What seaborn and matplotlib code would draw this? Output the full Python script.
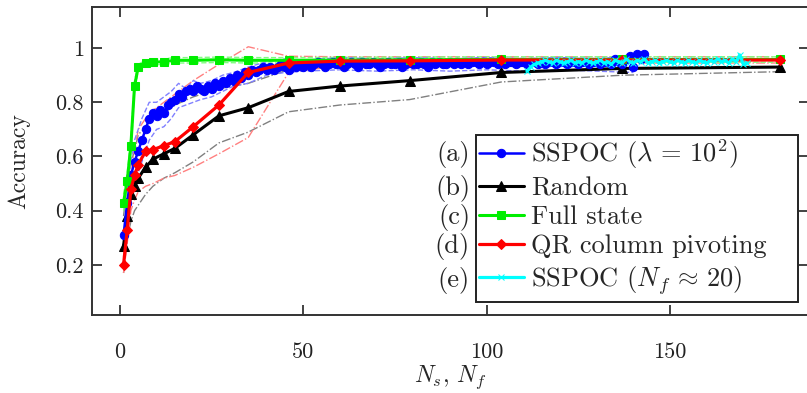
import numpy as np
import pandas as pd
import matplotlib
matplotlib.use("Agg")
import matplotlib.pyplot as plt
import seaborn as sns
from matplotlib.patches import Rectangle

# ---- data ----
x_sparse = [1, 2, 3, 4, 5, 7, 9, 12, 15, 20, 27, 35, 46, 60, 79, 104, 137, 180]

random_acc = [0.27, 0.38, 0.46, 0.49, 0.52, 0.56, 0.59, 0.61, 0.63, 0.68,
              0.75, 0.78, 0.84, 0.86, 0.88, 0.91, 0.925, 0.93]
random_lo = [0.17, 0.30, 0.36, 0.40, 0.42, 0.46, 0.49, 0.52, 0.54, 0.58,
             0.65, 0.69, 0.765, 0.79, 0.81, 0.875, 0.90, 0.913]
random_hi = [0.38, 0.50, 0.58, 0.62, 0.68, 0.71, 0.74, 0.76, 0.79, 0.82,
             0.85, 0.87, 0.92, 0.935, 0.945, 0.95, 0.955, 0.955]

full_acc = [0.43, 0.51, 0.64, 0.86, 0.93, 0.945, 0.948, 0.95, 0.955, 0.955,
            0.957, 0.955, 0.955, 0.956, 0.957, 0.958, 0.958, 0.958]
full_lo = [0.40, 0.48, 0.61, 0.84, 0.92, 0.935, 0.938, 0.94, 0.945, 0.945,
           0.947, 0.945, 0.945, 0.946, 0.947, 0.948, 0.948, 0.948]
full_hi = [0.46, 0.54, 0.67, 0.88, 0.94, 0.955, 0.958, 0.96, 0.965, 0.965,
           0.967, 0.965, 0.965, 0.966, 0.967, 0.968, 0.968, 0.968]

qr_acc = [0.20, 0.33, 0.48, 0.53, 0.57, 0.62, 0.625, 0.64, 0.655, 0.71,
          0.79, 0.91, 0.945, 0.952, 0.953, 0.956, 0.956, 0.956]
qr_lo = [0.17, 0.28, 0.40, 0.44, 0.47, 0.49, 0.50, 0.52, 0.53, 0.56,
         0.61, 0.67, 0.91, 0.935, 0.94, 0.945, 0.945, 0.945]
qr_hi = [0.23, 0.38, 0.56, 0.62, 0.70, 0.74, 0.77, 0.80, 0.83, 0.88,
         0.94, 1.005, 0.97, 0.968, 0.968, 0.968, 0.968, 0.968]

sspoc_x = list(range(1, 144))
sspoc_acc = [0.31, 0.43, 0.53, 0.58, 0.62, 0.66, 0.70, 0.74, 0.76, 0.75,
             0.77, 0.76, 0.79, 0.80, 0.81, 0.83, 0.82, 0.84, 0.85, 0.84,
             0.86, 0.85, 0.84, 0.86, 0.85, 0.87, 0.86, 0.88, 0.87, 0.89,
             0.88, 0.90, 0.89, 0.91, 0.90, 0.92, 0.91, 0.92, 0.93, 0.92,
             0.93, 0.92, 0.93, 0.94, 0.93, 0.92, 0.94, 0.93, 0.94, 0.93,
             0.94, 0.93, 0.94, 0.95, 0.94, 0.93, 0.94, 0.95, 0.94, 0.94,
             0.93, 0.94, 0.95, 0.94, 0.93, 0.95, 0.94, 0.94, 0.95, 0.94,
             0.93, 0.94, 0.95, 0.94, 0.94, 0.95, 0.93, 0.94, 0.95, 0.94,
             0.94, 0.95, 0.94, 0.93, 0.95, 0.94, 0.95, 0.94, 0.94, 0.95,
             0.94, 0.95, 0.94, 0.95, 0.94, 0.95, 0.95, 0.94, 0.95, 0.94,
             0.95, 0.95, 0.94, 0.95, 0.94, 0.95, 0.95, 0.94, 0.95, 0.95,
             0.94, 0.95, 0.95, 0.94, 0.95, 0.94, 0.95, 0.95, 0.94, 0.95,
             0.95, 0.94, 0.95, 0.95, 0.94, 0.95, 0.95, 0.94, 0.95, 0.95,
             0.94, 0.95, 0.95, 0.94, 0.96, 0.95, 0.94, 0.96, 0.97, 0.93,
             0.98, 0.96, 0.98]

band_x = [2, 4, 6, 8, 10, 12, 14, 16, 18, 20, 22, 25, 28, 31, 35, 40, 45, 50,
          60, 70, 80, 90, 100, 110, 120, 130, 140]
sspoc_hi = [0.50, 0.66, 0.74, 0.80, 0.80, 0.82, 0.84, 0.87, 0.85, 0.88, 0.87,
            0.88, 0.90, 0.91, 0.93, 0.95, 0.96, 0.955, 0.965, 0.96, 0.965,
            0.96, 0.965, 0.96, 0.965, 0.96, 0.97]
sspoc_lo = [0.36, 0.50, 0.58, 0.66, 0.70, 0.71, 0.74, 0.78, 0.79, 0.80, 0.81,
            0.82, 0.84, 0.86, 0.87, 0.90, 0.91, 0.915, 0.92, 0.915, 0.92,
            0.915, 0.92, 0.915, 0.92, 0.915, 0.91]

nf_x = list(range(111, 172))
nf_acc = [0.915, 0.93, 0.94, 0.945, 0.95, 0.955, 0.95, 0.945, 0.955, 0.95,
          0.945, 0.95, 0.955, 0.945, 0.95, 0.945, 0.955, 0.95, 0.945, 0.95,
          0.955, 0.945, 0.95, 0.94, 0.955, 0.95, 0.945, 0.96, 0.95, 0.945,
          0.955, 0.95, 0.96, 0.945, 0.95, 0.955, 0.945, 0.95, 0.955, 0.95,
          0.945, 0.955, 0.95, 0.945, 0.955, 0.95, 0.945, 0.955, 0.95, 0.945,
          0.955, 0.95, 0.96, 0.95, 0.955, 0.945, 0.96, 0.95, 0.975, 0.94,
          0.945]

labels = [r"SSPOC ($\lambda\,=\,10^2$)", "Random", "Full state",
          "QR column pivoting", r"SSPOC ($N_f\,\approx\,20$)"]
tags = ["(a)", "(b)", "(c)", "(d)", "(e)"]
yticks = [0.2, 0.4, 0.6, 0.8, 1.0]
ytick_labels = ["0.2", "0.4", "0.6", "0.8", "1"]
xticks = [0, 50, 100, 150]

sns.set_style("ticks")
plt.rcParams["font.family"] = "serif"
plt.rcParams["font.serif"] = ["cmr10", "DejaVu Serif"]
plt.rcParams["mathtext.fontset"] = "cm"
plt.rcParams["axes.unicode_minus"] = False
plt.rcParams["axes.formatter.use_mathtext"] = True

W, H = 807, 393
fig = plt.figure(figsize=(8.07, 3.93), dpi=100)
ax = fig.add_axes([0.114, 0.1985, 0.889, 0.7825])

# spread lines
ax.plot(x_sparse, random_lo, color="#808080", lw=1.0, ls="-.", zorder=1)
ax.plot(x_sparse, random_hi, color="#808080", lw=1.0, ls="-.", zorder=1)
ax.plot(x_sparse, qr_lo, color="#ff8080", lw=1.0, ls="-.", zorder=1)
ax.plot(x_sparse, qr_hi, color="#ff8080", lw=1.0, ls="-.", zorder=1)
ax.plot(x_sparse, full_lo, color="#80ff80", lw=1.0, ls="--", zorder=1)
ax.plot(x_sparse, full_hi, color="#80ff80", lw=1.0, ls="--", zorder=1)
ax.plot(band_x, sspoc_lo, color="#8080ff", lw=1.0, ls="--", zorder=1)
ax.plot(band_x, sspoc_hi, color="#8080ff", lw=1.0, ls="--", zorder=1)

sns.lineplot(x=sspoc_x, y=sspoc_acc, ax=ax, color="blue", lw=1.8,
             marker="o", markersize=6, markeredgecolor="blue", zorder=3)
ln_a = ax.lines[-1]
sns.lineplot(x=x_sparse, y=random_acc, ax=ax, color="black", lw=2.2,
             marker="^", markersize=6.5, markeredgecolor="black", zorder=2)
ln_b = ax.lines[-1]
sns.lineplot(x=x_sparse, y=full_acc, ax=ax, color="#00ee00", lw=2.2,
             marker="s", markersize=5.5, markeredgecolor="#00ee00", zorder=4)
ln_c = ax.lines[-1]
sns.lineplot(x=x_sparse, y=qr_acc, ax=ax, color="red", lw=2.3,
             marker="D", markersize=5.5, markeredgecolor="red", zorder=5)
ln_d = ax.lines[-1]
sns.lineplot(x=nf_x, y=nf_acc, ax=ax, color="cyan", lw=2.3,
             marker="x", markersize=5, markeredgecolor="cyan", zorder=6)
ln_e = ax.lines[-1]

ax.set_xlim(-7.6, 188)
ax.set_ylim(0.015, 1.15)
ax.set_xticks(xticks)
ax.set_xticklabels([str(t) for t in xticks])
ax.set_yticks(yticks)
ax.set_yticklabels(ytick_labels)
ax.tick_params(direction="in", length=7, width=1.2, top=True, right=True,
               labelsize=16, colors="#222222")
ax.tick_params(axis="x", pad=20)
ax.tick_params(axis="y", pad=6)
for s in ax.spines.values():
    s.set_linewidth(1.4)
    s.set_color("#333333")

ax.set_xlabel(r"$N_s$, $N_f$", fontsize=17, labelpad=1)
ax.set_ylabel("Accuracy", fontsize=17, labelpad=18)

# legend box drawn as its own rectangle (pixel position from the reference)
box_l, box_r, box_t, box_b = 476, 798, 135, 302
ax.add_patch(Rectangle((box_l / W, 1 - box_b / H),
                       (box_r - box_l) / W, (box_b - box_t) / H,
                       transform=fig.transFigure, facecolor="white",
                       edgecolor="#222222", lw=1.4, zorder=9, clip_on=False))

leg = ax.legend([ln_a, ln_b, ln_c, ln_d, ln_e], labels,
                loc="upper left", bbox_to_anchor=(box_l / W, 1 - box_t / H),
                bbox_transform=fig.transFigure, borderaxespad=0,
                fontsize=19, handlelength=1.7, handletextpad=0.3,
                labelspacing=0.2, borderpad=0.1, frameon=False)
leg.set_zorder(10)

fig.canvas.draw()
r = fig.canvas.get_renderer()
for t, txt in zip(tags, leg.get_texts()):
    bb = txt.get_window_extent(r)
    yc = (bb.y0 + bb.y1) / 2
    xf, yf = fig.transFigure.inverted().transform((box_l - 6, yc))
    fig.text(xf, yf, t, ha="right", va="center", fontsize=19)

fig.savefig("out.png", dpi=100)
